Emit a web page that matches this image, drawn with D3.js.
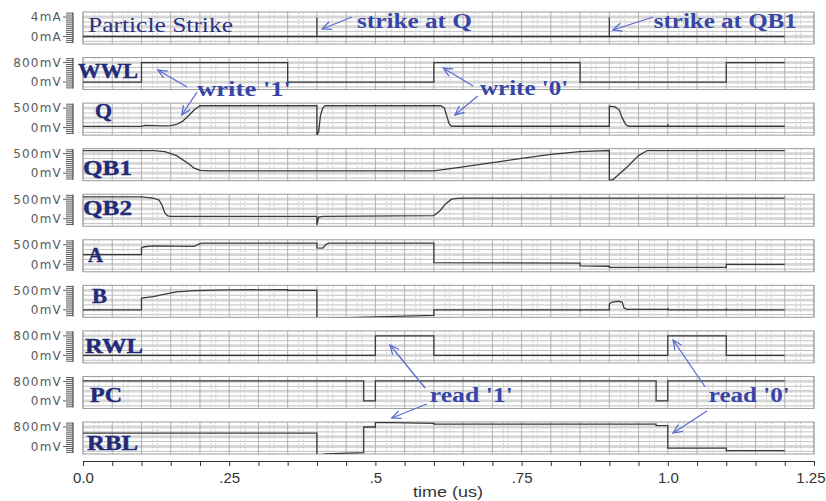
<!DOCTYPE html>
<html><head><meta charset="utf-8">
<script src="https://cdn.jsdelivr.net/npm/d3@7"></script>
<style>body{margin:0;background:#fff}</style>
</head><body><svg id="c" width="826" height="501"></svg>
<script>
// ---------- data ----------
const panelNames = ["Particle Strike","WWL","Q","QB1","QB2","A","B","RWL","PC","RBL"];
const panelTopTick = [4,0.8,0.5,0.5,0.5,0.5,0.5,0.8,0.8,0.8];
const panelTopLabel = ["4mA","800mV","500mV","500mV","500mV","500mV","500mV","800mV","800mV","800mV"];
const panelZeroLabel = ["0mA","0mV","0mV","0mV","0mV","0mV","0mV","0mV","0mV","0mV"];
const xTicks = [0,0.25,0.5,0.75,1.0,1.25];
const xTickLabels = ["0.0",".25",".5",".75","1.0","1.25"];

// time (us), value (mA or V)
const strike = [[0,0],[0.4,0],[0.4,3.85],[0.4,0],[0.9,0],[0.9,3.9],[0.9,0],[1.2,0]];
const WWL = [[0,0],[0.1,0],[0.1,0.8],[0.35,0.8],[0.35,0],[0.6,0],[0.6,0.8],[0.85,0.8],[0.85,0],[1.1,0],[1.1,0.8],[1.2,0.8]];
const Q = [[0,0.03],[0.1,0.03],[0.105,0.055],[0.14,0.045],[0.15,0.05],[0.16,0.08],[0.17,0.16],[0.18,0.3],[0.19,0.45],[0.2,0.56],
  [0.4,0.56],[0.4,-0.2],[0.403,-0.1],[0.406,0.3],[0.41,0.5],[0.414,0.56],[0.612,0.56],[0.618,0.5],[0.622,0.3],[0.626,0.1],[0.63,0.035],
  [0.9,0.035],[0.9,0.55],[0.91,0.53],[0.917,0.45],[0.922,0.25],[0.928,0.08],[0.933,0.035],[1.0,0.035],[1.0,0.09],[1.001,0.035],[1.2,0.035]];
const QB1 = [[0,0.58],[0.12,0.58],[0.14,0.55],[0.16,0.45],[0.18,0.25],[0.19,0.13],[0.2,0.07],[0.22,0.06],[0.6,0.06],
  [0.65,0.16],[0.7,0.27],[0.75,0.38],[0.8,0.48],[0.85,0.55],[0.9,0.58],[0.9,-0.17],[0.906,-0.17],[0.93,0.15],[0.95,0.45],[0.965,0.58],[1.2,0.58]];
const QB2 = [[0,0.56],[0.1,0.56],[0.12,0.53],[0.13,0.48],[0.135,0.35],[0.14,0.15],[0.145,0.07],[0.15,0.06],[0.4,0.06],[0.4,-0.16],
  [0.403,0.04],[0.41,0.06],[0.6,0.08],[0.61,0.2],[0.62,0.38],[0.63,0.5],[0.64,0.52],[0.65,0.53],[1.2,0.53]];
const A = [[0,0.25],[0.1,0.25],[0.1,0.42],[0.105,0.45],[0.12,0.47],[0.19,0.46],[0.2,0.53],[0.205,0.54],[0.4,0.54],[0.4,0.42],
  [0.41,0.415],[0.415,0.5],[0.42,0.54],[0.6,0.54],[0.6,0.04],[0.85,0.03],[0.85,-0.04],[0.9,-0.05],[0.9,-0.08],[1.1,-0.08],[1.1,0.0],[1.2,0.0]];
const B = [[0,0],[0.1,0],[0.1,0.3],[0.12,0.34],[0.14,0.4],[0.16,0.46],[0.19,0.49],[0.25,0.51],[0.35,0.52],[0.35,0.5],[0.4,0.5],
  [0.4,-0.3],[0.42,-0.21],[0.6,-0.14],[0.6,0.0],[0.85,0.0],[0.85,-0.03],[0.851,0.0],[0.9,0.0],[0.9,0.15],[0.905,0.2],[0.915,0.22],
  [0.922,0.2],[0.925,0.05],[0.93,0.01],[1.0,0.01],[1.0,0.04],[1.001,0.0],[1.1,0.0],[1.1,0.03],[1.101,0.0],[1.2,0.0]];
const RWL = [[0,0],[0.5,0],[0.5,0.8],[0.6,0.8],[0.6,0],[1.0,0],[1.0,0.8],[1.1,0.8],[1.1,0],[1.2,0]];
const PC = [[0,0.82],[0.48,0.82],[0.48,0],[0.5,0],[0.5,0.82],[0.98,0.82],[0.98,0],[1.0,0],[1.0,0.82],[1.2,0.82]];
const RBL = [[0,0.55],[0.4,0.55],[0.4,-0.4],[0.414,-0.3],[0.48,-0.25],[0.48,0.8],[0.5,0.8],[0.5,0.99],[0.6,0.95],[0.6,0.92],
  [0.98,0.92],[0.98,0.86],[1.0,0.86],[1.0,-0.07],[1.1,-0.07],[1.1,-0.17],[1.2,-0.17]];
const signals = [strike,WWL,Q,QB1,QB2,A,B,RWL,PC,RBL];

// ---------- layout ----------
const svg = d3.select("#c");
svg.append("rect").attr("width",826).attr("height",501).attr("fill","#fff");
const x = d3.scaleLinear().domain([0,1.25]).range([83,814]);
const panelTop = d3.scaleLinear().domain([0,panelNames.length-1]).range([12,422]);
const PH = 32;
const gridT = d3.range(0,26).map(k=>k*0.05);

panelNames.forEach((name,i)=>{
  const t0 = panelTop(i);
  const tt = panelTopTick[i];
  const y = d3.scaleLinear().domain([0,tt]).range([t0+24.5,t0+5]);
  const g = svg.append("g");
  svg.append("clipPath").attr("id","clip"+i).append("rect")
    .attr("x",x(0)).attr("y",t0).attr("width",x(1.25)-x(0)).attr("height",PH);
  // horizontal grid
  [1.25,1,0.75,0.5,0.25,0,-0.25].forEach((f,k)=>{
    const yy=y(f*tt); if(yy<=t0+0.5||yy>=t0+PH-0.5) return;
    g.append("line").attr("x1",x(0)).attr("x2",x(1.25)).attr("y1",yy).attr("y2",yy)
      .attr("stroke", k%2? "#d6d6d6":"#b0b0b0").attr("stroke-width", k%2?2.8:0.8);
  });
  // vertical grid
  gridT.forEach(t=>{
    g.append("line").attr("x1",x(t)).attr("x2",x(t)).attr("y1",t0).attr("y2",t0+PH)
      .attr("stroke","#aaaaaa").attr("stroke-width",0.9);
    if(t<1.24){
      [0.019,0.027].forEach(o=>{
        g.append("line").attr("x1",x(t+o)).attr("x2",x(t+o)).attr("y1",t0).attr("y2",t0+PH)
          .attr("stroke","#cccccc").attr("stroke-width",0.9).attr("stroke-dasharray","2,1.5");
      });
    }
  });
  // box
  g.append("rect").attr("x",x(0)).attr("y",t0).attr("width",x(1.25)-x(0)).attr("height",PH)
    .attr("fill","none").attr("stroke","#9a9a9a").attr("stroke-width",1);
  // left comb axis
  g.append("line").attr("x1",73).attr("x2",73).attr("y1",t0+0.5).attr("y2",t0+PH-1).attr("stroke","#333").attr("stroke-width",1);
  d3.range(-3,13).forEach(k=>{
    const yy=y(k/10*tt);
    g.append("line").attr("x1",(k%10===0)?63:66).attr("x2",73).attr("y1",yy).attr("y2",yy)
      .attr("stroke","#333").attr("stroke-width",0.8);
  });
  g.append("text").attr("x",62).attr("y",y(tt)).attr("dy","0.36em").attr("text-anchor","end")
    .attr("font-family","DejaVu Sans").attr("font-size",12).attr("letter-spacing",1.2).attr("fill","#5a5a5a").text(panelTopLabel[i]);
  g.append("text").attr("x",62).attr("y",y(0)).attr("dy","0.36em").attr("text-anchor","end")
    .attr("font-family","DejaVu Sans").attr("font-size",12).attr("letter-spacing",1.2).attr("fill","#5a5a5a").text(panelZeroLabel[i]);
  // signal
  g.append("path").datum(signals[i]).attr("clip-path","url(#clip"+i+")")
    .attr("d",d3.line().x(d=>x(d[0])).y(d=>y(d[1])))
    .attr("fill","none").attr("stroke","#3a3a3a").attr("stroke-width",1.3);
});

// x axis
const ax = svg.append("g").attr("transform","translate(0,461)")
  .call(d3.axisBottom(x).tickValues(gridT).tickSize(5).tickSizeOuter(0).tickPadding(6)
    .tickFormat(d=>{const j=xTicks.findIndex(v=>Math.abs(v-d)<1e-6); return j>=0?xTickLabels[j]:"";}));
ax.select(".domain").attr("stroke","#333");
ax.selectAll(".tick line").attr("stroke","#333");
ax.selectAll("text").attr("font-family","Liberation Sans").attr("font-size",15).attr("fill","#333");
// keep the last label inside the window
ax.selectAll(".tick text").filter(d=>Math.abs(d-1.25)<1e-6).attr("text-anchor","end").attr("x",11);
svg.append("text").attr("x",413).attr("y",497).attr("font-family","Liberation Sans").attr("font-size",14)
  .attr("fill","#333").attr("textLength",70).attr("lengthAdjust","spacingAndGlyphs").text("time (us)");

// ---------- labels & annotations ----------
const navy = "#232a78", blue = "#3746a6", arrowC = "#5b6bd0";
const panelLabels = [
  {t:"WWL",x:78,y:78,w:60},{t:"Q",x:95,y:118,w:17},{t:"QB1",x:83,y:175,w:49},{t:"QB2",x:83,y:215,w:49},
  {t:"A",x:88,y:261.5,w:15},{t:"B",x:92,y:303,w:15},{t:"RWL",x:85,y:352.5,w:58},{t:"PC",x:90,y:401.5,w:32},{t:"RBL",x:87,y:450,w:51}];
panelLabels.forEach(d=>{
  svg.append("text").attr("x",d.x).attr("y",d.y).attr("font-family","Liberation Serif").attr("font-weight","bold")
    .attr("font-size",20).attr("fill",navy).attr("stroke",navy).attr("stroke-width",0.4)
    .attr("textLength",d.w).attr("lengthAdjust","spacingAndGlyphs").text(d.t);
});
svg.append("text").attr("x",88).attr("y",32).attr("font-family","Liberation Serif").attr("font-size",21)
  .attr("fill","#2c3180").attr("textLength",145).attr("lengthAdjust","spacingAndGlyphs").text("Particle Strike");

const notes = [
  {t:"strike at Q",   at:0.4685, y:28,  w:115},
  {t:"strike at QB1", at:0.976,  y:28,  w:143},
  {t:"write '1'",     at:0.195,  y:96,  w:94},
  {t:"write '0'",     at:0.679,  y:95,  w:88},
  {t:"read '1'",      at:0.593,  y:402, w:83},
  {t:"read '0'",      at:1.070,  y:402, w:81}];
notes.forEach(d=>{
  svg.append("text").attr("x",x(d.at)).attr("y",d.y).attr("font-family","Liberation Serif").attr("font-weight","bold")
    .attr("font-size",20).attr("fill",blue).attr("textLength",d.w).attr("lengthAdjust","spacingAndGlyphs").text(d.t);
});
// arrows: tail (t,y) -> head (t,y)
const arrows = [
  [0.460,17,0.409,29],[0.975,17,0.906,30],
  [0.178,87,0.128,70],[0.195,92,0.169,115],
  [0.667,86,0.616,68],[0.675,96,0.636,115],
  [0.585,388,0.525,345],[0.588,404,0.528,418],
  [1.064,387,1.009,340],[1.067,411,1.009,433]];
arrows.forEach(a=>{
  const x1=x(a[0]),y1=a[1],x2=x(a[2]),y2=a[3];
  const ang=Math.atan2(y2-y1,x2-x1),L=10,s=0.42;
  svg.append("line").attr("x1",x1).attr("y1",y1).attr("x2",x2).attr("y2",y2).attr("stroke",arrowC).attr("stroke-width",1.3);
  svg.append("path").attr("d",`M${x2-L*Math.cos(ang-s)},${y2-L*Math.sin(ang-s)}L${x2},${y2}L${x2-L*Math.cos(ang+s)},${y2-L*Math.sin(ang+s)}`)
    .attr("fill","none").attr("stroke",arrowC).attr("stroke-width",1.3);
});
</script></body></html>
